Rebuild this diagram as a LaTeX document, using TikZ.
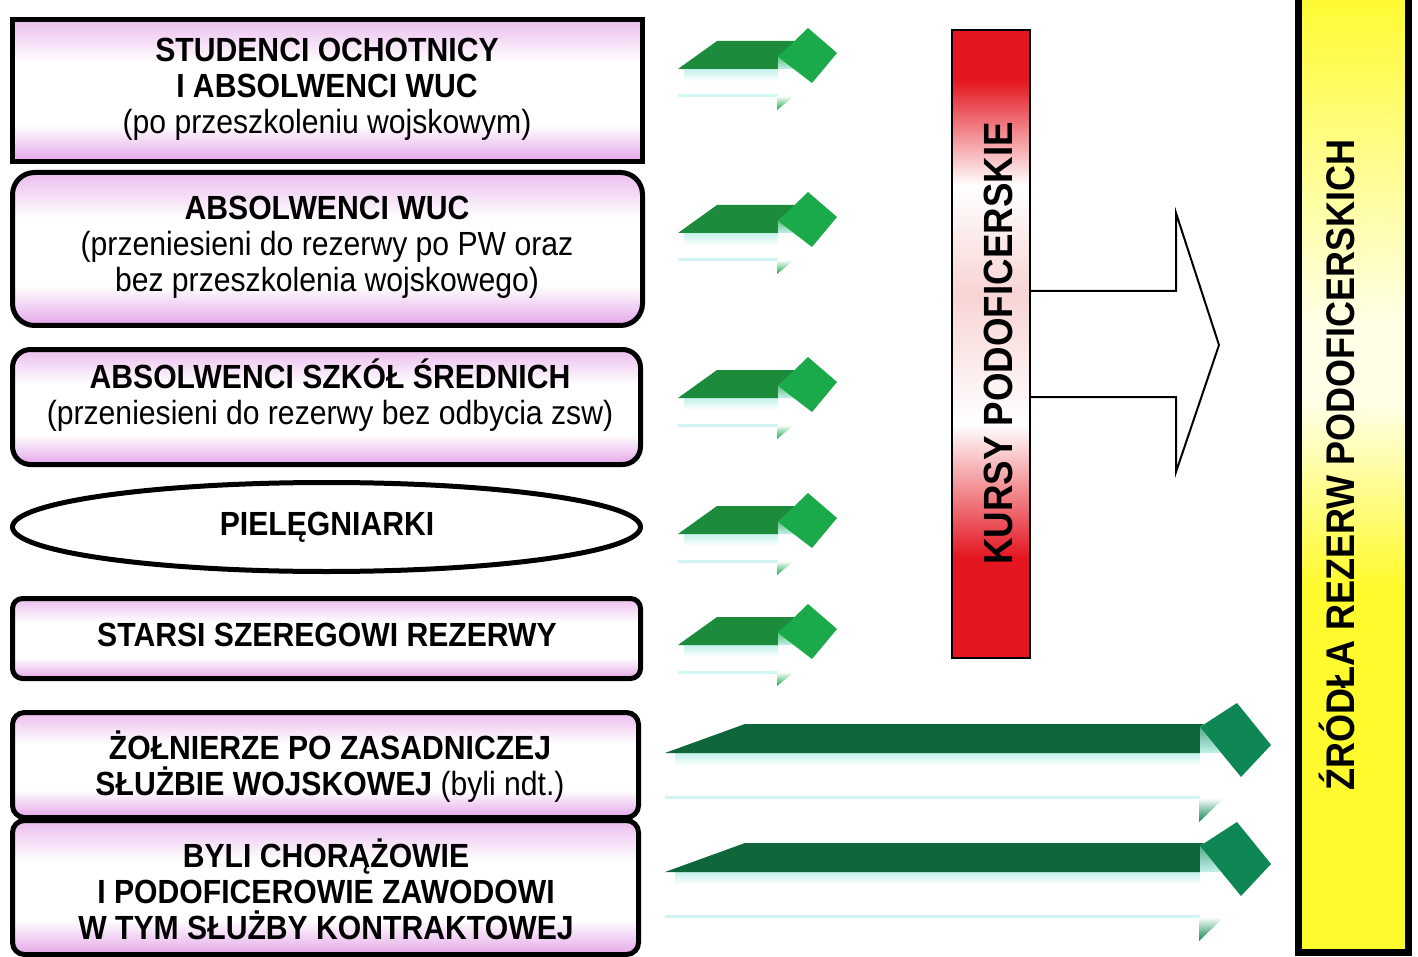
\documentclass[tikz,border=0pt]{standalone}
\usepackage{fontspec}
\setmainfont{Liberation Sans}[FakeStretch=0.9]
\usetikzlibrary{shapes.geometric}

\definecolor{boxpink}{RGB}{228,166,232}
\definecolor{agreen}{RGB}{28,140,60}
\definecolor{adiam}{RGB}{26,170,74}
\definecolor{bgreen}{RGB}{14,102,58}
\definecolor{bdiam}{RGB}{15,135,85}
\definecolor{refl}{RGB}{195,242,236}
\definecolor{reflline}{RGB}{208,245,243}
\definecolor{kred}{RGB}{228,22,32}
\definecolor{kpink}{RGB}{248,212,212}
\definecolor{zyellow}{RGB}{255,250,45}
\definecolor{zmid}{RGB}{255,253,130}
\definecolor{zpale}{RGB}{255,255,232}

\pgfdeclareverticalshading{boxsh}{100bp}{color(0bp)=(boxpink); color(25bp)=(boxpink); color(38bp)=(white); color(60bp)=(white); color(75bp)=(boxpink!75); color(100bp)=(boxpink!75)}
\pgfdeclareverticalshading{redsh}{100bp}{color(0bp)=(kred); color(33bp)=(kred); color(43.6bp)=(white); color(54bp)=(kpink); color(62.6bp)=(white); color(71bp)=(kred); color(100bp)=(kred)}
\pgfdeclareverticalshading{yelsh}{100bp}{color(0bp)=(zyellow); color(44bp)=(zyellow); color(53.5bp)=(zpale); color(57.5bp)=(zpale); color(67bp)=(zmid); color(75bp)=(zyellow); color(100bp)=(zyellow)}

\newcommand\ts{\rule{0pt}{32pt}}
\newcommand\bs{\rule[-8pt]{0pt}{8pt}}

\newcommand\sarrow[1]{%
\begin{scope}[shift={(0,#1)}]
 \shade[top color=refl, bottom color=white] (684,69) rectangle (778,81);
 \fill[reflline] (678,94.5) rectangle (778,97.5);
 \shade[top color=white, bottom color=adiam] (777,96) -- (794,96) -- (777,110) -- cycle;
 \fill[agreen] (678,69) -- (717,41) -- (795,41) -- (778,57) -- (778,69) -- cycle;
 \shade[top color=adiam!70!white, bottom color=refl] (778,57) -- (794,69) -- (778,69) -- cycle;
 \fill[adiam] (808,28) -- (837,53) -- (812,83) -- (778,57) -- cycle;
\end{scope}}

\newcommand\barrow[1]{%
\begin{scope}[shift={(0,#1)}]
 \shade[top color=refl, bottom color=white] (675,753) rectangle (1200,766);
 \fill[reflline] (665,795.5) rectangle (1200,798.5);
 \shade[top color=white, bottom color=bdiam] (1199,798) -- (1224,798) -- (1199,822) -- cycle;
 \fill[bgreen] (665,753) -- (745,724) -- (1204,724) -- (1200,727) -- (1200,753) -- cycle;
 \shade[top color=bdiam!70!white, bottom color=refl] (1200,727) -- (1221,753) -- (1200,753) -- cycle;
 \fill[bdiam] (1237,703) -- (1271,745) -- (1241,777) -- (1200,727) -- cycle;
\end{scope}}

\tikzset{
  pbox/.style={draw=black, line width=5pt, shade, shading=boxsh, inner sep=0pt},
  btxt/.style={font=\fontsize{33.5}{36}\selectfont, align=center, inner sep=0pt},
  vtxt/.style={rotate=90, inner sep=0pt, font=\fontsize{#1}{#1}\selectfont\bfseries},
  tarrow/.style={draw=black, line width=2pt, line join=miter},
}

\begin{document}
\begin{tikzpicture}[x=1pt, y=-1pt]
\useasboundingbox (0,0) rectangle (1418,957);
\fill[white] (0,0) rectangle (1418,957);

% left boxes
\node[pbox, minimum width=630, minimum height=142] (b1) at (327.5,90.5) {};
\node[pbox, rounded corners=22pt, minimum width=630, minimum height=153] (b2) at (327.5,249) {};
\node[pbox, rounded corners=18pt, minimum width=628, minimum height=115] (b3) at (326.5,407) {};
\node[draw=black, line width=5pt, fill=white, ellipse, inner sep=0pt, minimum width=628, minimum height=89] (b4) at (326.5,527) {};
\node[pbox, rounded corners=10pt, minimum width=628, minimum height=80] (b5) at (326.5,638.5) {};
\node[pbox, rounded corners=12pt, minimum width=626, minimum height=105] (b6) at (325.5,765) {};
\node[pbox, rounded corners=12pt, minimum width=626, minimum height=134] (b7) at (325.5,887.5) {};

% texts
\node[btxt] (t1) at (327,86) {\ts\textbf{STUDENCI OCHOTNICY}\\\textbf{I ABSOLWENCI WUC}\\(po przeszkoleniu wojskowym)\bs};
\node[btxt] (t2) at (327,244) {\ts\textbf{ABSOLWENCI WUC}\\(przeniesieni do rezerwy po PW oraz\\bez przeszkolenia wojskowego)\bs};
\node[btxt] (t3) at (330,394) {\ts\textbf{ABSOLWENCI SZKÓŁ ŚREDNICH}\\(przeniesieni do rezerwy bez odbycia zsw)\bs};
\node[btxt] (t4) at (327,523) {\ts\textbf{PIELĘGNIARKI}\bs};
\node[btxt] (t5) at (327,634) {\ts\textbf{STARSI SZEREGOWI REZERWY}\bs};
\node[btxt] (t6) at (330,765.5) {\ts\textbf{ŻOŁNIERZE PO ZASADNICZEJ}\\\textbf{SŁUŻBIE WOJSKOWEJ} (byli ndt.)\bs};
\node[btxt] (t7) at (326,891) {\ts\textbf{BYLI CHORĄŻOWIE}\\\textbf{I PODOFICEROWIE ZAWODOWI}\\\textbf{W TYM SŁUŻBY KONTRAKTOWEJ}\bs};

% green arrows
\sarrow{0}
\sarrow{164}
\sarrow{329}
\sarrow{465}
\sarrow{576}
\barrow{0}
\barrow{119}

% red bar
\node[draw=black, line width=2pt, shade, shading=redsh, minimum width=78, minimum height=628, inner sep=0pt] (kursy) at (991,344) {};
\node[vtxt=40.8, text height=29.2pt, text depth=0pt] (kt) at (997.5,343.5) {KURSY PODOFICERSKIE};

% outline arrow
\coordinate (ta) at (1030,291);
\coordinate (tb) at (1030,397);
\draw[tarrow] (kursy.east |- ta) -- (1176,291) -- (1176,213) -- (1219,345) -- (1176,472) -- (1176,397) -- (kursy.east |- tb);

% yellow bar
\node[draw=black, line width=7pt, shade, shading=yelsh, minimum width=110, minimum height=965, inner sep=0pt] (zrodla) at (1353.5,469.5) {};
\node[vtxt=40, text height=28.6pt, text depth=0pt] (zt) at (1340,465) {ŹRÓDŁA REZERW PODOFICERSKICH};
\end{tikzpicture}
\end{document}
